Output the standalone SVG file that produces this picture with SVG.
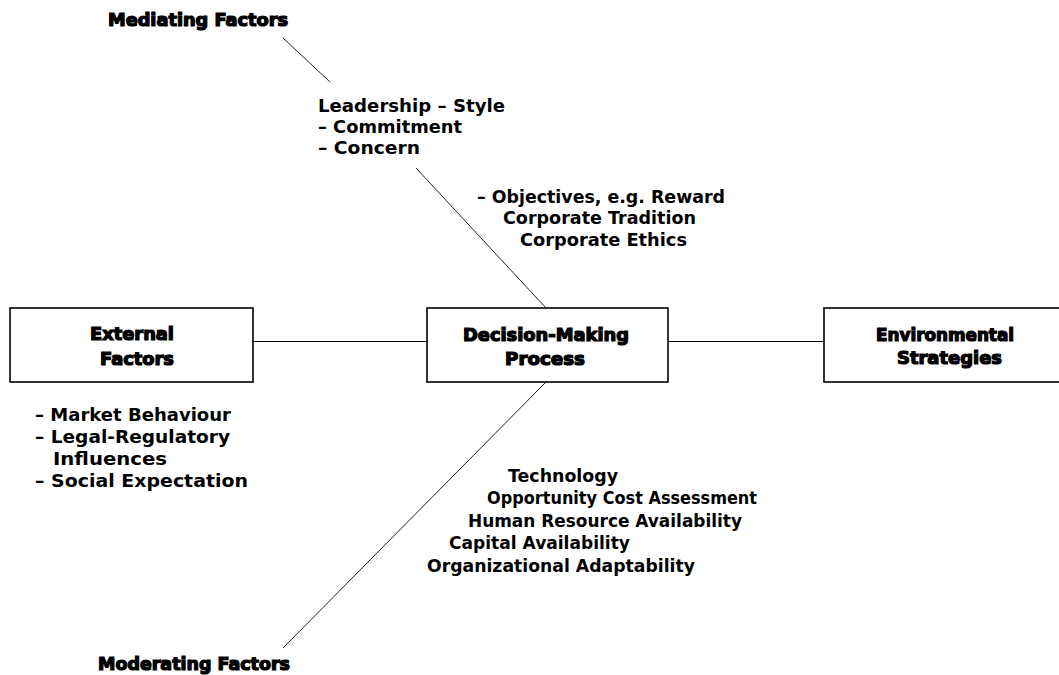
<svg xmlns="http://www.w3.org/2000/svg" width="1059" height="675" viewBox="0 0 1059 675">
<style>
.box{fill:#fff;stroke:#000;stroke-width:1.6}
.con{stroke:#000;stroke-width:1.2;fill:none}
.diag{stroke:#222;stroke-width:1;fill:none}
.t{font-family:"DejaVu Sans","Liberation Sans",sans-serif;font-weight:bold;font-size:17.5px;fill:#000}
.h{font-family:"DejaVu Sans","Liberation Sans",sans-serif;font-weight:bold;font-size:17px;fill:#000;stroke:#000;stroke-width:1.2}
</style>
<rect width="1059" height="675" fill="#fff"/>
<g id="connectors">
<line class="con" x1="253" y1="341.5" x2="427" y2="341.5"/>
<line class="con" x1="668" y1="341.5" x2="824" y2="341.5"/>
<line class="diag" x1="283" y1="38" x2="330" y2="82"/>
<line class="diag" x1="416" y1="168" x2="546" y2="308"/>
<line class="diag" x1="546" y1="382" x2="283" y2="648"/>
</g>
<g id="external">
<rect class="box" x="10" y="308" width="243" height="74"/>
<text class="h" x="90" y="340" textLength="84" lengthAdjust="spacingAndGlyphs">External</text>
<text class="h" x="100" y="365" textLength="74" lengthAdjust="spacingAndGlyphs">Factors</text>
</g>
<g id="decision">
<rect class="box" x="427" y="308" width="241" height="74"/>
<text class="h" x="463" y="341" textLength="166" lengthAdjust="spacingAndGlyphs">Decision-Making</text>
<text class="h" x="505" y="365" textLength="80" lengthAdjust="spacingAndGlyphs">Process</text>
</g>
<g id="environmental">
<rect class="box" x="824" y="308" width="243" height="74"/>
<text class="h" x="876" y="341" textLength="138" lengthAdjust="spacingAndGlyphs">Environmental</text>
<text class="h" x="897" y="364" textLength="105" lengthAdjust="spacingAndGlyphs">Strategies</text>
</g>
<g id="mediating">
<text class="h" x="108" y="26" textLength="180" lengthAdjust="spacingAndGlyphs">Mediating Factors</text>
</g>
<g id="moderating">
<text class="h" x="98" y="670" textLength="192" lengthAdjust="spacingAndGlyphs">Moderating Factors</text>
</g>
<g id="leadership">
<text class="t" x="318" y="112" textLength="187" lengthAdjust="spacingAndGlyphs">Leadership – Style</text>
<text class="t" x="318" y="133" textLength="144" lengthAdjust="spacingAndGlyphs">– Commitment</text>
<text class="t" x="318" y="154" textLength="102" lengthAdjust="spacingAndGlyphs">– Concern</text>
</g>
<g id="objectives">
<text class="t" x="477" y="203" textLength="248" lengthAdjust="spacingAndGlyphs">– Objectives, e.g. Reward</text>
<text class="t" x="503" y="224" textLength="193" lengthAdjust="spacingAndGlyphs">Corporate Tradition</text>
<text class="t" x="520" y="246" textLength="167" lengthAdjust="spacingAndGlyphs">Corporate Ethics</text>
</g>
<g id="external-list">
<text class="t" x="35" y="421" textLength="196" lengthAdjust="spacingAndGlyphs">– Market Behaviour</text>
<text class="t" x="35" y="443" textLength="195" lengthAdjust="spacingAndGlyphs">– Legal-Regulatory</text>
<text class="t" x="53" y="465" textLength="114" lengthAdjust="spacingAndGlyphs">Influences</text>
<text class="t" x="35" y="487" textLength="213" lengthAdjust="spacingAndGlyphs">– Social Expectation</text>
</g>
<g id="moderating-list">
<text class="t" x="508" y="482" textLength="110" lengthAdjust="spacingAndGlyphs">Technology</text>
<text class="t" x="487" y="504" textLength="270" lengthAdjust="spacingAndGlyphs">Opportunity Cost Assessment</text>
<text class="t" x="468" y="527" textLength="274" lengthAdjust="spacingAndGlyphs">Human Resource Availability</text>
<text class="t" x="449" y="549" textLength="181" lengthAdjust="spacingAndGlyphs">Capital Availability</text>
<text class="t" x="427" y="572" textLength="268" lengthAdjust="spacingAndGlyphs">Organizational Adaptability</text>
</g>
</svg>
